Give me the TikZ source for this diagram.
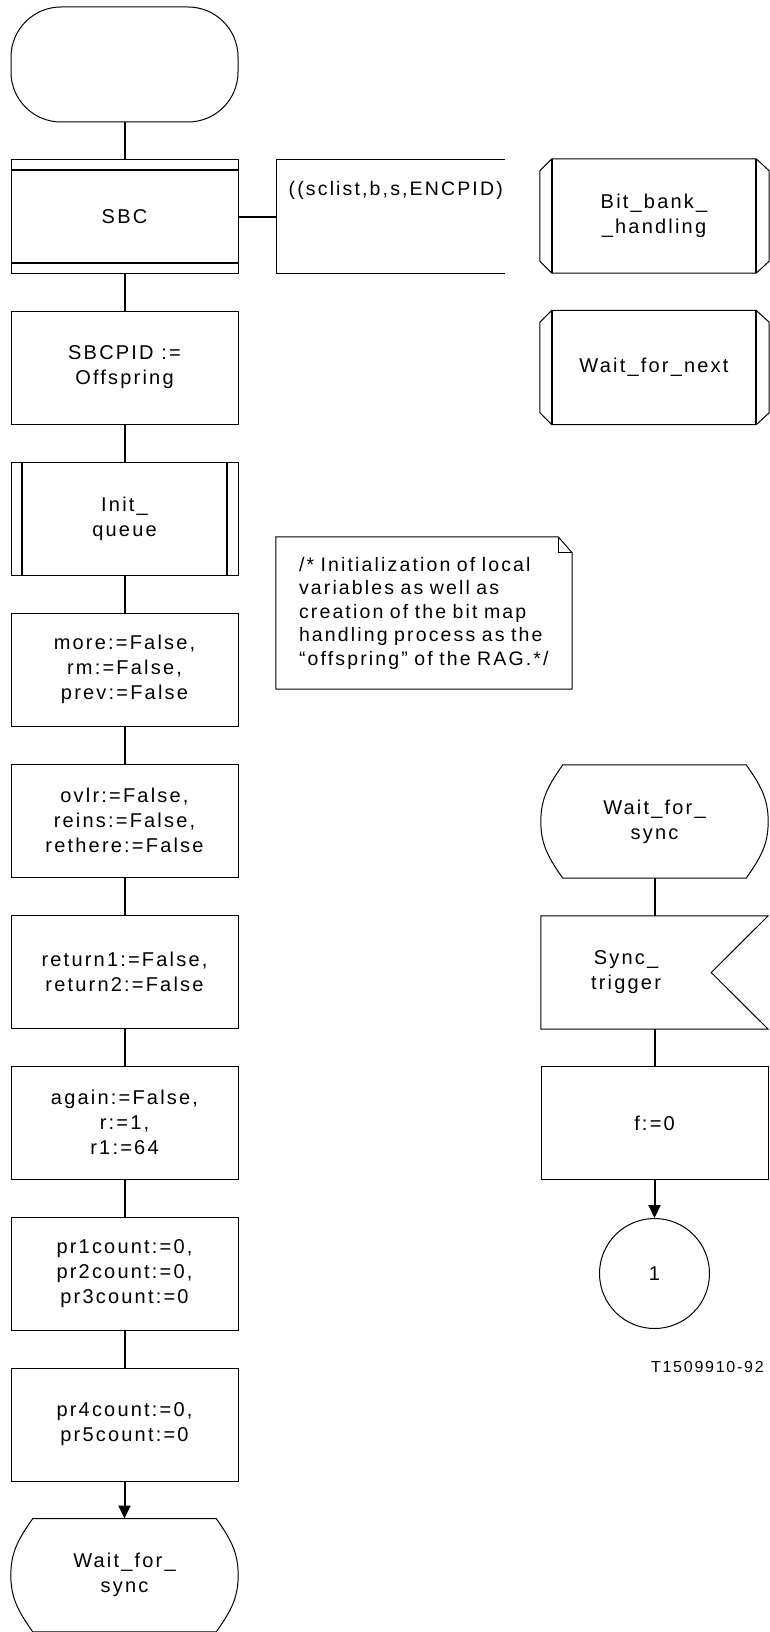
\documentclass[tikz,border=0pt]{standalone}
\usepackage{fontspec}
\setmainfont{Liberation Sans}[LetterSpace=11]
\usetikzlibrary{arrows.meta,positioning}

\begin{document}
\begin{tikzpicture}[
  x=1pt, y=-1pt,
  node distance=37pt and 37pt,
  font=\fontsize{20}{25}\selectfont,
  every node/.style={inner sep=0pt},
  box/.style={draw, line width=1pt, minimum width=227pt, minimum height=113pt, align=center},
  startbox/.style={box, rounded corners=50pt, minimum height=115pt},
  statebox/.style={minimum width=227pt, minimum height=113pt, align=center},
  procbox/.style={minimum width=204pt, minimum height=114pt, align=center},
  notebox/.style={text width=250pt, inner xsep=23pt, minimum height=152pt, align=left, font=\fontsize{19.5}{23.5}\selectfont},
  thin/.style={line width=1pt},
  bar/.style={line width=2pt},
  conn/.style={line width=2pt},
  arr/.style={conn, -{Triangle[length=13pt,width=12pt]}}
]
\useasboundingbox (0,0) rectangle (770,1632);

% main column
\node[startbox] (start) at (124.5,64.5) {};
\node[box, below=of start] (sbc) {SBC};
\draw[bar] ([yshift=-11pt]sbc.north west) -- ([yshift=-11pt]sbc.north east)
  ([yshift=11pt]sbc.south west) -- ([yshift=11pt]sbc.south east);
\node[box, below=of sbc] (sbcpid) {SBCPID :=\\Offspring};
\node[box, below=of sbcpid] (initq) {Init\_\\queue};
\draw[bar] ([xshift=11.5pt]initq.north west) -- ([xshift=11.5pt]initq.south west)
  ([xshift=-11.5pt]initq.north east) -- ([xshift=-11.5pt]initq.south east);
\node[box, below=of initq] (more) {more:=False,\\rm:=False,\\prev:=False};
\node[box, below=of more] (ovlr) {ovlr:=False,\\reins:=False,\\rethere:=False};
\node[box, below=of ovlr] (ret) {return1:=False,\\return2:=False};
\node[box, below=of ret] (again) {again:=False,\\r:=1,\\r1:=64};
\node[box, below=of again] (prA) {pr1count:=0,\\pr2count:=0,\\pr3count:=0};
\node[box, below=of prA] (prB) {pr4count:=0,\\pr5count:=0};
\node[statebox, below=of prB] (waitL) {Wait\_for\_\\sync};
\draw[thin] ([xshift=22pt]waitL.north west) -- ([xshift=-22pt]waitL.north east)
  to[out=-55,in=90] (waitL.east) to[out=-90,in=55] ([xshift=-22pt]waitL.south east)
  -- ([xshift=22pt]waitL.south west) to[out=125,in=-90] (waitL.west)
  to[out=90,in=-125] cycle;

% comment bracket
\node[box, draw=none, right=38pt of sbc,
  label={[anchor=north west, xshift=12pt, yshift=-22pt, font=\fontsize{19.5}{25}\selectfont]north west:((sclist,b,s,ENCPID)}] (cmt) {};
\draw[thin] (cmt.north east) -- (cmt.north west) -- (cmt.south west) -- (cmt.south east);

% procedure references
\node[procbox] (bbh) at (654,216) {Bit\_bank\_\\\_handling};
\node[procbox] (wfn) at (654,367.5) {Wait\_for\_next};
\draw[thin] (bbh.north west) -- (bbh.north east) -- ++(13pt,-12pt) -- ([xshift=13pt,yshift=12pt]bbh.south east)
  -- (bbh.south east) -- (bbh.south west) -- ++(-12pt,12pt) -- ([xshift=-12pt,yshift=-12pt]bbh.north west) -- cycle;
\draw[bar] (bbh.north west) -- (bbh.south west) (bbh.north east) -- (bbh.south east);
\draw[thin] (wfn.north west) -- (wfn.north east) -- ++(13pt,-12pt) -- ([xshift=13pt,yshift=12pt]wfn.south east)
  -- (wfn.south east) -- (wfn.south west) -- ++(-12pt,12pt) -- ([xshift=-12pt,yshift=-12pt]wfn.north west) -- cycle;
\draw[bar] (wfn.north west) -- (wfn.south west) (wfn.north east) -- (wfn.south east);

% note
\node[notebox] (note) at (424,613) {/* Initialization of local\\variables as well as\\creation of the bit map\\handling process as the\\“offspring” of the RAG.*/};
\draw[thin] (note.north west) -- ([xshift=-14pt]note.north east) -- ([yshift=-16pt]note.north east)
  -- (note.south east) -- (note.south west) -- cycle;
\draw[thin] ([xshift=-14pt]note.north east) -- ([xshift=-14pt,yshift=-16pt]note.north east) -- ([yshift=-16pt]note.north east);

% second column
\node[statebox] (waitR) at (654.5,821.5) {Wait\_for\_\\sync};
\draw[thin] ([xshift=22pt]waitR.north west) -- ([xshift=-22pt]waitR.north east)
  to[out=-55,in=90] (waitR.east) to[out=-90,in=55] ([xshift=-22pt]waitR.south east)
  -- ([xshift=22pt]waitR.south west) to[out=125,in=-90] (waitR.west)
  to[out=90,in=-125] cycle;
\node[statebox, minimum width=170pt] (sync) at (626,972.5) {Sync\_\\trigger};
\draw[thin] (sync.north west) -- ([xshift=57pt]sync.north east) -- (sync.east)
  -- ([xshift=57pt]sync.south east) -- (sync.south west) -- cycle;
\node[box] (f0) at (654.5,1123) {f:=0};
\node[draw, thin, circle, minimum size=110pt, below=38pt of f0] (c1) {1};
\node[anchor=base east, font=\fontsize{16}{19}\selectfont] (tag) at (764,1372) {T1509910-92};

% connectors
\draw[conn] (start) -- (sbc);
\draw[conn] (sbc) -- (sbcpid);
\draw[conn] (sbcpid) -- (initq);
\draw[conn] (initq) -- (more);
\draw[conn] (more) -- (ovlr);
\draw[conn] (ovlr) -- (ret);
\draw[conn] (ret) -- (again);
\draw[conn] (again) -- (prA);
\draw[conn] (prA) -- (prB);
\draw[arr] (prB) -- (waitL);
\draw[conn] (sbc) -- (cmt);
\draw[conn] (waitR.south) -- (waitR.south |- sync.north);
\draw[conn] (f0.north |- sync.south) -- (f0.north);
\draw[arr] (f0) -- (c1);
\end{tikzpicture}
\end{document}
